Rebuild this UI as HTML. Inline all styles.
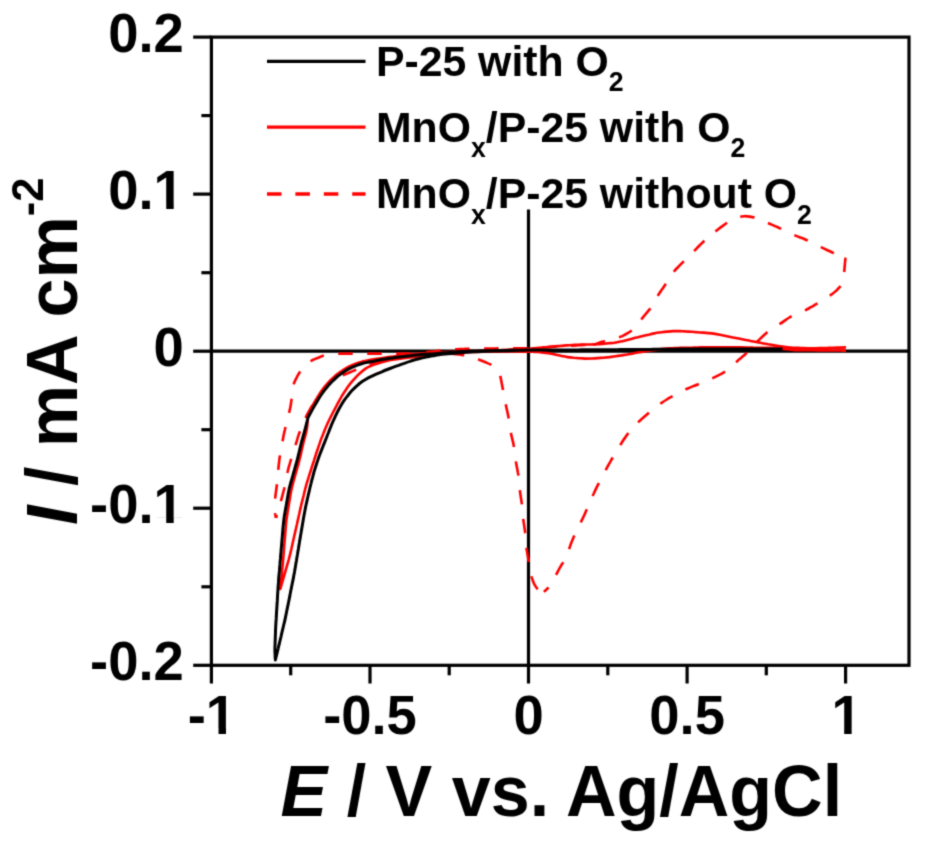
<!DOCTYPE html>
<html lang="en"><head><meta charset="utf-8"><title>Cyclic voltammograms</title>
<style>html,body{margin:0;padding:0;background:#fff}body{width:927px;height:846px;overflow:hidden}svg{display:block}text{font-family:"Liberation Sans", sans-serif;font-weight:bold;fill:#000}</style></head><body>
<svg width="927" height="846" viewBox="0 0 927 846">
<rect width="927" height="846" fill="#fff"/>
<defs><filter id="soft" x="0" y="0" width="927" height="846" filterUnits="userSpaceOnUse" color-interpolation-filters="sRGB"><feConvolveMatrix order="3" kernelMatrix="1 4 1 4 16 4 1 4 1" divisor="36" edgeMode="duplicate" preserveAlpha="false"/></filter></defs>
<g filter="url(#soft)">
<rect width="927" height="846" fill="#fff"/>
<g stroke="#000" stroke-width="3.2" fill="none">
<line x1="211.4" y1="351.2" x2="909.0" y2="351.2"/>
<line x1="528.5" y1="209.5" x2="528.5" y2="665.3"/>
</g>
<g fill="none" stroke-linejoin="round" stroke-linecap="butt">
<path d="M276.0 518.0 C276.3 517.0 277.1 514.2 277.7 512.2 C278.3 510.3 278.8 508.4 279.4 506.5 C279.9 504.6 280.5 502.6 281.0 500.7 C281.6 498.8 282.1 496.8 282.6 494.9 C283.1 493.0 283.6 491.0 284.1 489.1 C284.5 487.1 284.9 485.2 285.3 483.2 C285.7 481.3 286.0 479.3 286.4 477.3 C286.8 475.4 287.2 473.4 287.7 471.5 C288.1 469.5 288.7 467.6 289.2 465.7 C289.8 463.7 290.3 461.8 290.9 459.9 C291.5 458.0 292.1 456.1 292.7 454.2 C293.3 452.2 293.9 450.3 294.5 448.4 C295.1 446.5 295.7 444.6 296.3 442.7 C296.9 440.8 297.4 438.9 298.0 436.9 C298.6 435.0 299.2 433.2 300.0 431.3 C300.7 429.4 301.5 427.6 302.3 425.7 C303.0 423.9 303.8 422.0 304.6 420.2 C305.4 418.4 306.2 416.5 307.1 414.7 C307.9 413.0 309.0 411.2 309.9 409.5 C310.9 407.7 311.9 406.0 312.9 404.3 C313.9 402.5 315.0 400.8 316.1 399.2 C317.2 397.5 318.2 395.8 319.4 394.1 C320.5 392.5 321.8 391.0 323.1 389.5 C324.4 388.0 325.7 386.4 327.2 385.1 C328.7 383.7 330.3 382.6 331.9 381.4 C333.5 380.3 335.2 379.2 336.9 378.2 C338.7 377.2 340.5 376.3 342.3 375.5 C344.1 374.6 346.0 373.9 347.8 373.2 C349.7 372.4 351.6 371.7 353.4 370.9 C355.2 370.2 357.1 369.4 358.9 368.6 C360.8 367.8 362.6 367.0 364.5 366.3 C366.3 365.6 368.2 364.9 370.1 364.3 C372.0 363.6 373.9 363.0 375.8 362.4 C377.7 361.8 379.6 361.2 381.6 360.7 C383.5 360.2 385.5 359.8 387.4 359.3 C389.4 358.9 391.3 358.4 393.3 358.0 C395.2 357.6 397.2 357.1 399.1 356.7 C401.1 356.3 403.1 356.0 405.0 355.6 C407.0 355.3 409.0 354.9 411.0 354.6 C412.9 354.2 414.9 353.9 416.9 353.6 C418.8 353.2 420.8 352.9 422.8 352.7 C424.8 352.4 426.8 352.2 428.8 351.9 C430.7 351.7 432.7 351.4 434.7 351.2 C436.7 350.9 438.7 350.7 440.7 350.5 C442.7 350.3 444.7 350.1 446.7 349.9 C448.7 349.8 450.6 349.6 452.6 349.4 C454.6 349.3 456.6 349.1 458.6 349.0 C460.6 348.8 462.6 348.8 464.6 348.8 C466.6 348.7 468.6 348.7 470.6 348.7 C472.6 348.7 474.6 348.7 476.6 348.6 C478.6 348.6 480.6 348.6 482.6 348.6 C484.6 348.6 486.6 348.5 488.6 348.5 C490.6 348.5 492.6 348.5 494.6 348.5 C496.6 348.4 498.6 348.4 500.6 348.4 C502.6 348.4 504.7 348.4 506.7 348.4 C508.7 348.4 510.7 348.4 512.7 348.4 C514.7 348.4 516.7 348.4 518.7 348.4 C520.7 348.4 522.7 348.4 524.7 348.4 C526.7 348.4 528.7 348.3 530.7 348.2 C532.7 348.1 534.7 348.0 536.7 347.9 C538.7 347.8 540.7 347.6 542.7 347.5 C544.6 347.4 546.6 347.3 548.6 347.2 C550.6 347.1 552.6 346.9 554.6 346.8 C556.6 346.7 558.6 346.6 560.6 346.4 C562.6 346.3 564.6 346.2 566.6 346.0 C568.6 345.9 570.6 345.7 572.6 345.6 C574.6 345.5 576.6 345.3 578.6 345.2 C580.6 345.1 582.6 345.1 584.6 345.0 C586.6 344.9 589.1 344.8 590.6 344.8 C592.1 344.7 593.1 344.7 593.6 344.7" stroke="#ff0000" stroke-width="2.6" stroke-dasharray="14.5 14.5" stroke-dashoffset="11.5"/>
<path d="M593.6 344.7 C594.6 344.4 597.4 343.4 599.3 342.8 C601.2 342.2 603.1 341.5 605.0 340.9 C607.0 340.4 608.9 339.8 610.8 339.4 C612.8 338.9 614.8 338.5 616.7 338.0 C618.6 337.4 620.5 336.9 622.4 336.1 C624.2 335.3 625.9 334.3 627.6 333.2 C629.3 332.2 631.1 331.2 632.5 329.9 C634.0 328.6 635.2 326.9 636.5 325.4 C637.7 323.8 638.9 322.2 640.2 320.7 C641.5 319.1 642.8 317.6 644.0 316.0 C645.3 314.5 646.6 313.0 647.9 311.4 C649.2 309.9 650.5 308.4 651.6 306.7 C652.7 305.1 653.7 303.3 654.6 301.5 C655.6 299.8 656.5 298.0 657.5 296.2 C658.5 294.5 659.6 292.8 660.7 291.2 C661.9 289.5 663.1 287.9 664.2 286.2 C665.3 284.6 666.5 282.9 667.6 281.3 C668.7 279.6 669.7 277.9 670.8 276.2 C671.9 274.5 673.0 272.8 674.2 271.2 C675.4 269.7 676.9 268.3 678.3 266.8 C679.7 265.4 681.1 264.0 682.5 262.6 C683.9 261.2 685.4 259.7 686.8 258.3 C688.2 256.9 689.7 255.5 691.1 254.1 C692.5 252.7 693.9 251.3 695.3 249.8 C696.7 248.4 698.1 247.0 699.5 245.5 C700.9 244.1 702.4 242.7 703.8 241.3 C705.3 239.9 706.8 238.6 708.3 237.3 C709.8 236.0 711.3 234.6 712.8 233.3 C714.4 232.1 716.0 230.9 717.6 229.7 C719.2 228.4 720.8 227.2 722.4 226.1 C724.0 224.9 725.7 223.7 727.3 222.6 C729.0 221.5 730.7 220.4 732.5 219.5 C734.3 218.6 736.1 217.8 738.0 217.3 C739.9 216.7 741.9 216.4 743.9 216.2 C745.8 216.1 747.9 216.3 749.8 216.6 C751.8 216.9 753.8 217.3 755.7 217.9 C757.6 218.5 759.4 219.4 761.2 220.1 C763.1 220.9 764.9 221.7 766.8 222.5 C768.6 223.3 770.5 224.1 772.3 224.9 C774.1 225.7 776.0 226.5 777.8 227.3 C779.6 228.1 781.4 229.0 783.3 229.8 C785.1 230.7 786.9 231.6 788.7 232.5 C790.5 233.3 792.3 234.2 794.1 235.0 C796.0 235.8 797.8 236.5 799.7 237.3 C801.6 238.0 803.4 238.7 805.3 239.5 C807.1 240.3 808.9 241.2 810.7 242.1 C812.5 243.0 814.3 243.9 816.1 244.8 C817.9 245.7 819.7 246.6 821.5 247.4 C823.3 248.3 825.1 249.2 826.9 250.0 C828.8 250.9 830.6 251.7 832.4 252.5 C834.3 253.3 836.1 254.0 838.0 254.7 C839.9 255.4 842.4 256.4 843.6 256.9 C844.9 257.4 845.2 257.5 845.5 257.6" stroke="#ff0000" stroke-width="2.6" stroke-dasharray="14.5 14.5" stroke-dashoffset="2.5"/>
<path d="M845.5 257.6 C845.4 258.6 845.1 261.6 844.9 263.6 C844.8 265.6 844.6 267.6 844.4 269.6 C844.2 271.5 843.9 273.5 843.6 275.5 C843.4 277.5 843.3 279.6 842.7 281.4 C842.1 283.3 841.2 285.0 840.1 286.6 C839.0 288.2 837.5 289.6 836.0 290.9 C834.6 292.3 832.9 293.4 831.3 294.6 C829.6 295.7 827.9 296.8 826.3 297.9 C824.6 299.0 822.9 300.1 821.2 301.1 C819.5 302.2 817.8 303.2 816.1 304.2 C814.3 305.2 812.6 306.3 810.9 307.2 C809.1 308.2 807.4 309.2 805.6 310.1 C803.8 310.9 801.9 311.6 800.0 312.3 C798.2 313.0 796.2 313.6 794.5 314.5 C792.7 315.4 791.0 316.4 789.3 317.5 C787.6 318.6 786.0 319.8 784.4 320.9 C782.7 322.1 781.1 323.2 779.4 324.2 C777.7 325.3 775.9 326.2 774.2 327.3 C772.5 328.3 770.8 329.4 769.2 330.6 C767.6 331.8 766.2 333.2 764.7 334.5 C763.2 335.9 761.7 337.2 760.3 338.6 C758.9 340.0 757.5 341.5 756.1 342.9 C754.7 344.4 753.4 345.9 752.0 347.3 C750.7 348.8 749.3 350.3 747.9 351.7 C746.5 353.1 744.9 354.4 743.5 355.7 C742.0 357.0 740.4 358.3 738.9 359.6 C737.4 361.0 736.0 362.4 734.5 363.7 C733.1 365.1 731.7 366.6 730.2 367.9 C728.6 369.1 727.0 370.3 725.4 371.4 C723.7 372.5 721.9 373.4 720.2 374.4 C718.4 375.3 716.6 376.3 714.8 377.1 C713.1 378.0 711.2 378.8 709.4 379.6 C707.5 380.4 705.7 381.2 703.9 382.0 C702.0 382.8 700.2 383.5 698.3 384.3 C696.5 385.0 694.6 385.7 692.7 386.4 C690.8 387.1 689.0 387.9 687.2 388.7 C685.3 389.5 683.6 390.5 681.8 391.3 C680.0 392.2 678.2 393.1 676.4 394.0 C674.6 395.0 672.9 396.0 671.2 396.9 C669.4 397.9 667.7 398.9 666.0 400.0 C664.3 401.0 662.6 402.2 661.0 403.3 C659.4 404.5 657.8 405.8 656.2 407.0 C654.7 408.2 653.1 409.5 651.5 410.7 C650.0 412.0 648.5 413.3 646.9 414.5 C645.4 415.8 643.9 417.1 642.3 418.4 C640.8 419.8 639.4 421.1 637.9 422.5 C636.4 423.8 634.9 425.1 633.5 426.6 C632.2 428.0 630.9 429.6 629.7 431.2 C628.5 432.8 627.4 434.4 626.2 436.1 C625.1 437.7 623.9 439.3 622.8 441.0 C621.8 442.7 620.7 444.4 619.7 446.1 C618.6 447.8 617.5 449.5 616.5 451.2 C615.4 452.9 614.4 454.6 613.4 456.4 C612.4 458.1 611.4 459.8 610.4 461.6 C609.4 463.3 608.4 465.0 607.4 466.8 C606.5 468.5 605.5 470.3 604.5 472.0 C603.5 473.8 602.6 475.5 601.7 477.3 C600.7 479.1 599.9 480.9 599.0 482.7 C598.1 484.5 597.2 486.3 596.3 488.1 C595.4 489.9 594.6 491.7 593.8 493.5 C592.9 495.3 592.1 497.1 591.3 499.0 C590.5 500.8 589.7 502.6 588.9 504.5 C588.1 506.3 587.3 508.2 586.5 510.0 C585.7 511.8 585.0 513.7 584.1 515.5 C583.3 517.3 582.4 519.1 581.5 520.9 C580.6 522.7 579.6 524.4 578.7 526.2 C577.8 528.0 576.9 529.8 576.1 531.6 C575.3 533.4 574.5 535.3 573.7 537.1 C572.9 539.0 572.1 540.8 571.4 542.6 C570.6 544.5 570.0 546.4 569.4 548.3 C568.7 550.2 568.2 552.2 567.5 554.0 C566.8 555.9 565.9 557.7 565.0 559.4 C564.0 561.2 562.9 562.8 561.8 564.5 C560.8 566.2 559.7 567.9 558.8 569.7 C557.8 571.4 557.0 573.2 556.0 575.0 C555.1 576.8 554.3 578.6 553.3 580.4 C552.3 582.1 551.3 583.8 550.1 585.4 C548.9 587.0 547.2 588.8 546.1 589.8 C545.1 590.9 544.2 591.4 543.8 591.7" stroke="#ff0000" stroke-width="2.6" stroke-dasharray="14.5 14.5" stroke-dashoffset="0.0"/>
<path d="M543.8 591.7 C542.9 591.4 539.9 590.8 538.4 589.7 C536.9 588.6 535.8 586.9 534.8 585.2 C533.8 583.5 533.1 581.5 532.5 579.6 C531.8 577.8 531.2 575.8 530.8 573.9 C530.3 571.9 530.0 570.0 529.7 568.0 C529.4 566.0 529.1 564.0 528.8 562.0 C528.5 560.0 528.1 558.1 527.8 556.1 C527.5 554.1 527.1 552.1 526.8 550.2 C526.5 548.2 526.2 546.2 526.0 544.2 C525.8 542.2 525.8 540.2 525.6 538.2 C525.5 536.2 525.4 534.2 525.1 532.2 C524.9 530.2 524.6 528.2 524.3 526.2 C524.0 524.2 523.7 522.3 523.4 520.3 C523.1 518.3 522.9 516.3 522.7 514.3 C522.5 512.3 522.4 510.3 522.2 508.3 C522.1 506.3 521.9 504.3 521.6 502.3 C521.4 500.3 521.0 498.4 520.7 496.4 C520.4 494.4 520.1 492.4 519.9 490.4 C519.6 488.4 519.4 486.4 519.3 484.4 C519.1 482.4 519.0 480.4 518.8 478.4 C518.6 476.4 518.3 474.5 517.9 472.5 C517.6 470.5 517.1 468.6 516.8 466.6 C516.4 464.6 516.0 462.7 515.7 460.7 C515.4 458.7 515.2 456.7 514.9 454.7 C514.7 452.7 514.6 450.7 514.3 448.7 C514.0 446.7 513.6 444.8 513.2 442.8 C512.8 440.9 512.2 438.9 511.8 437.0 C511.3 435.0 510.9 433.1 510.5 431.1 C510.2 429.1 510.0 427.1 509.7 425.1 C509.4 423.1 509.2 421.1 508.8 419.2 C508.5 417.2 508.1 415.2 507.7 413.3 C507.3 411.3 506.8 409.3 506.4 407.4 C506.0 405.4 505.6 403.5 505.2 401.5 C504.8 399.5 504.4 397.5 504.1 395.6 C503.7 393.6 503.4 391.6 503.0 389.7 C502.6 387.7 502.2 385.7 501.8 383.7 C501.4 381.8 501.1 379.8 500.7 377.8 C500.2 375.9 499.8 373.9 498.9 372.2 C498.0 370.5 496.8 368.8 495.4 367.5 C493.9 366.2 492.1 365.3 490.3 364.4 C488.5 363.5 486.6 362.8 484.8 362.0 C483.0 361.2 481.1 360.4 479.2 359.7 C477.4 359.0 475.5 358.2 473.6 357.6 C471.7 356.9 469.8 356.2 467.9 355.7 C466.0 355.3 464.0 355.1 462.0 354.9 C460.0 354.6 458.0 354.4 456.0 354.2 C454.0 354.0 451.0 353.7 450.0 353.6" stroke="#ff0000" stroke-width="2.6" stroke-dasharray="14.5 14.5" stroke-dashoffset="22.4"/>
<path d="M450.0 353.6 C449.0 353.6 446.0 353.6 444.0 353.6 C442.0 353.6 440.0 353.6 438.0 353.6 C436.0 353.6 434.0 353.6 432.0 353.6 C430.0 353.6 427.9 353.6 425.9 353.6 C423.9 353.6 421.9 353.6 419.9 353.6 C417.9 353.6 415.9 353.6 413.9 353.6 C411.9 353.6 409.9 353.6 407.9 353.6 C405.9 353.6 403.9 353.6 401.9 353.6 C399.9 353.6 397.9 353.6 395.9 353.6 C393.9 353.6 391.9 353.6 389.9 353.6 C387.8 353.6 385.8 353.6 383.8 353.6 C381.8 353.6 379.8 353.6 377.8 353.6 C375.8 353.6 373.8 353.6 371.8 353.6 C369.8 353.6 367.8 353.6 365.8 353.6 C363.8 353.6 361.8 353.6 359.8 353.6 C357.8 353.6 355.8 353.6 353.8 353.6 C351.8 353.6 349.8 353.6 347.7 353.6 C345.7 353.6 343.7 353.6 341.7 353.6 C339.7 353.6 337.7 353.7 335.7 353.8 C333.7 354.0 331.7 354.3 329.8 354.6 C327.8 354.9 325.8 355.1 323.9 355.6 C321.9 356.1 320.1 356.9 318.2 357.7 C316.4 358.4 314.5 359.1 312.7 360.0 C311.0 360.9 309.3 362.0 307.8 363.2 C306.3 364.5 304.9 366.0 303.6 367.5 C302.3 369.0 300.9 370.5 299.8 372.1 C298.6 373.7 297.8 375.6 296.8 377.3 C295.9 379.1 294.9 380.9 294.2 382.7 C293.6 384.6 293.3 386.5 292.9 388.5 C292.6 390.5 292.5 392.5 292.2 394.5 C292.0 396.5 291.7 398.5 291.4 400.4 C291.1 402.4 290.9 404.4 290.5 406.4 C290.1 408.4 289.7 410.3 289.2 412.3 C288.7 414.2 288.1 416.1 287.6 418.0 C287.1 420.0 286.6 421.9 286.2 423.9 C285.7 425.8 285.3 427.8 284.9 429.7 C284.4 431.7 284.0 433.7 283.6 435.6 C283.2 437.6 282.9 439.6 282.5 441.5 C282.1 443.5 281.7 445.5 281.4 447.5 C281.0 449.4 280.6 451.4 280.3 453.4 C280.0 455.3 279.7 457.3 279.4 459.3 C279.2 461.3 278.9 463.3 278.7 465.3 C278.5 467.3 278.3 469.3 278.1 471.3 C277.9 473.3 277.8 475.3 277.6 477.3 C277.5 479.3 277.3 481.3 277.1 483.3 C276.9 485.2 276.6 487.2 276.3 489.2 C276.1 491.2 275.8 493.2 275.5 495.2 C275.3 497.2 275.1 499.2 274.9 501.2 C274.7 503.2 274.4 505.2 274.5 507.2 C274.5 509.1 274.8 511.3 275.0 513.1 C275.3 514.9 275.8 517.2 276.0 518.0" stroke="#ff0000" stroke-width="2.6" stroke-dasharray="14.5 14.5" stroke-dashoffset="18.7"/>
<path d="M846.0 347.4 C845.0 347.4 842.0 347.5 840.0 347.6 C838.0 347.6 836.0 347.7 834.0 347.7 C832.0 347.8 830.0 347.8 828.0 347.9 C826.0 347.9 824.0 348.0 822.0 348.1 C820.0 348.1 818.0 348.2 816.0 348.2 C814.0 348.3 812.0 348.3 810.0 348.3 C808.0 348.3 806.0 348.2 804.0 348.1 C802.0 348.1 800.0 348.0 798.0 347.9 C796.0 347.8 794.0 347.7 792.0 347.6 C790.0 347.4 788.0 347.3 786.0 347.0 C784.0 346.8 782.1 346.5 780.1 346.2 C778.1 345.9 776.1 345.5 774.1 345.2 C772.2 344.9 770.2 344.6 768.2 344.3 C766.2 343.9 764.3 343.6 762.3 343.2 C760.3 342.9 758.4 342.5 756.4 342.1 C754.5 341.7 752.5 341.3 750.5 340.9 C748.6 340.5 746.6 340.2 744.6 339.8 C742.7 339.4 740.7 339.0 738.7 338.6 C736.8 338.2 734.8 337.8 732.9 337.4 C730.9 337.0 728.9 336.6 727.0 336.2 C725.0 335.8 723.0 335.4 721.1 335.0 C719.1 334.7 717.2 334.2 715.2 333.9 C713.2 333.6 711.2 333.3 709.2 333.1 C707.3 332.9 705.3 332.8 703.3 332.6 C701.3 332.5 699.3 332.4 697.3 332.2 C695.3 332.1 693.3 331.9 691.3 331.8 C689.3 331.7 687.3 331.5 685.3 331.4 C683.3 331.2 681.3 331.1 679.3 331.0 C677.3 331.0 675.3 331.0 673.3 331.1 C671.3 331.2 669.3 331.4 667.3 331.6 C665.3 331.8 663.4 332.0 661.4 332.2 C659.4 332.5 657.4 332.7 655.4 333.1 C653.5 333.4 651.5 333.9 649.6 334.4 C647.6 334.8 645.7 335.3 643.7 335.8 C641.8 336.3 639.9 336.8 637.9 337.3 C636.0 337.7 634.0 338.2 632.1 338.7 C630.2 339.2 628.2 339.7 626.3 340.2 C624.3 340.7 622.4 341.2 620.4 341.6 C618.5 342.0 616.5 342.4 614.6 342.7 C612.6 343.0 610.6 343.1 608.6 343.3 C606.6 343.5 604.6 343.7 602.6 343.9 C600.6 344.1 598.6 344.3 596.6 344.3 C594.6 344.4 592.6 344.4 590.6 344.5 C588.6 344.5 586.6 344.5 584.6 344.5 C582.6 344.6 580.6 344.6 578.6 344.7 C576.6 344.7 574.6 344.9 572.6 345.0 C570.6 345.1 568.6 345.3 566.6 345.4 C564.6 345.6 562.6 345.7 560.6 345.9 C558.7 346.0 556.7 346.2 554.7 346.4 C552.7 346.6 550.7 346.8 548.7 346.9 C546.7 347.1 544.7 347.3 542.7 347.5 C540.7 347.7 538.7 347.9 536.7 348.0 C534.7 348.2 532.7 348.4 530.7 348.6 C528.7 348.7 526.8 348.8 524.8 348.9 C522.8 349.0 520.8 349.1 518.8 349.2 C516.8 349.3 514.8 349.4 512.8 349.4 C510.8 349.5 508.8 349.6 506.8 349.7 C504.8 349.8 502.8 349.9 500.8 350.0 C498.8 350.0 496.8 350.1 494.8 350.2 C492.8 350.2 490.8 350.3 488.8 350.4 C486.8 350.4 484.8 350.5 482.8 350.6 C480.8 350.6 478.8 350.7 476.8 350.8 C474.8 350.8 472.7 350.9 470.7 351.0 C468.7 351.1 466.7 351.1 464.7 351.2 C462.7 351.3 460.7 351.4 458.8 351.5 C456.8 351.6 454.8 351.6 452.8 351.7 C450.8 351.8 448.8 351.9 446.8 352.0 C444.8 352.1 442.8 352.2 440.8 352.3 C438.8 352.4 436.8 352.5 434.8 352.6 C432.8 352.7 430.8 352.9 428.8 353.0 C426.8 353.1 424.8 353.2 422.8 353.4 C420.8 353.5 418.8 353.6 416.8 353.8 C414.8 354.0 412.8 354.2 410.8 354.4 C408.8 354.6 406.8 354.9 404.8 355.1 C402.9 355.3 400.9 355.5 398.9 355.8 C396.9 356.0 394.9 356.2 392.9 356.5 C390.9 356.7 388.9 357.0 387.0 357.3 C385.0 357.6 383.0 357.9 381.0 358.2 C379.1 358.5 377.1 358.8 375.1 359.1 C373.1 359.4 371.2 359.8 369.2 360.1 C367.2 360.5 365.2 360.8 363.3 361.3 C361.4 361.8 359.5 362.4 357.6 363.0 C355.7 363.7 353.8 364.4 352.0 365.2 C350.1 366.0 348.4 366.8 346.6 367.8 C344.9 368.8 343.2 369.9 341.6 371.0 C339.9 372.2 338.2 373.3 336.7 374.5 C335.1 375.8 333.7 377.2 332.3 378.6 C330.8 379.9 329.4 381.3 328.0 382.8 C326.7 384.3 325.5 385.9 324.2 387.4 C323.0 389.0 321.8 390.6 320.7 392.3 C319.5 393.9 318.5 395.6 317.4 397.3 C316.4 399.0 315.3 400.7 314.3 402.5 C313.4 404.2 312.5 406.0 311.6 407.8 C310.7 409.6 309.7 411.9 309.1 413.3 C308.5 414.6 308.1 415.5 307.9 416.0 C307.8 417.0 307.7 420.0 307.5 422.0 C307.4 424.0 307.3 426.0 307.0 428.0 C306.7 430.0 306.3 431.9 305.8 433.9 C305.3 435.8 304.7 437.7 304.2 439.7 C303.7 441.6 303.2 443.6 302.8 445.5 C302.3 447.5 301.9 449.4 301.4 451.4 C301.0 453.4 300.6 455.3 300.1 457.3 C299.6 459.2 299.1 461.2 298.6 463.1 C298.1 465.1 297.5 467.0 297.0 468.9 C296.5 470.9 295.9 472.8 295.4 474.7 C294.8 476.7 294.3 478.6 293.8 480.5 C293.2 482.5 292.7 484.4 292.2 486.3 C291.7 488.3 291.3 490.3 290.9 492.2 C290.5 494.2 290.2 496.2 289.9 498.2 C289.6 500.1 289.2 502.1 288.9 504.1 C288.6 506.1 288.3 508.1 287.9 510.1 C287.6 512.0 287.3 514.0 287.0 516.0 C286.7 518.0 286.4 520.0 286.2 522.0 C286.0 524.0 285.8 526.0 285.7 528.0 C285.5 530.0 285.4 532.0 285.2 534.0 C285.0 536.0 284.9 538.0 284.7 540.0 C284.6 542.0 284.4 544.0 284.2 546.0 C284.1 548.0 283.9 550.0 283.8 552.0 C283.6 554.0 283.5 556.0 283.3 558.0 C283.1 560.0 283.0 562.0 282.8 564.0 C282.6 566.0 282.4 568.0 282.2 570.0 C282.0 572.0 281.8 574.0 281.6 576.0 C281.4 578.0 281.2 580.0 281.0 582.0 C280.8 584.0 280.5 586.8 280.4 588.0 C280.3 589.2 280.3 588.8 280.3 589.0 C280.6 588.0 281.4 585.1 282.0 583.2 C282.5 581.3 283.1 579.4 283.6 577.4 C284.2 575.5 284.7 573.6 285.3 571.7 C285.8 569.7 286.4 567.8 286.9 565.9 C287.5 564.0 288.0 562.1 288.6 560.1 C289.1 558.2 289.6 556.3 290.1 554.3 C290.6 552.4 291.0 550.4 291.5 548.5 C291.9 546.5 292.4 544.6 292.8 542.6 C293.2 540.7 293.7 538.7 294.1 536.7 C294.6 534.8 295.0 532.8 295.4 530.9 C295.9 528.9 296.3 527.0 296.8 525.0 C297.2 523.1 297.6 521.1 298.1 519.2 C298.5 517.2 298.9 515.3 299.4 513.3 C299.8 511.3 300.2 509.4 300.7 507.4 C301.1 505.5 301.6 503.5 302.1 501.6 C302.6 499.7 303.1 497.7 303.6 495.8 C304.0 493.8 304.5 491.9 305.0 489.9 C305.5 488.0 306.0 486.1 306.5 484.1 C307.1 482.2 307.7 480.3 308.3 478.4 C308.8 476.5 309.5 474.6 310.1 472.7 C310.7 470.7 311.3 468.8 311.9 466.9 C312.5 465.0 313.1 463.1 313.8 461.2 C314.4 459.3 315.0 457.4 315.6 455.5 C316.2 453.6 316.8 451.7 317.5 449.8 C318.1 447.9 318.7 446.0 319.4 444.1 C320.0 442.2 320.7 440.3 321.4 438.4 C322.1 436.6 322.9 434.7 323.6 432.9 C324.4 431.0 325.1 429.1 325.9 427.3 C326.7 425.5 327.5 423.6 328.3 421.8 C329.2 420.0 330.1 418.2 331.0 416.4 C331.9 414.6 332.8 412.9 333.7 411.1 C334.7 409.3 335.6 407.5 336.5 405.8 C337.5 404.0 338.4 402.2 339.4 400.5 C340.3 398.7 341.3 397.0 342.3 395.2 C343.4 393.5 344.5 391.9 345.6 390.2 C346.7 388.5 347.8 386.9 349.0 385.3 C350.2 383.7 351.5 382.2 352.8 380.7 C354.2 379.2 355.5 377.7 356.9 376.2 C358.3 374.8 359.8 373.4 361.3 372.1 C362.7 370.8 364.2 369.4 365.9 368.3 C367.5 367.3 369.3 366.5 371.2 365.7 C373.0 364.9 374.9 364.3 376.8 363.7 C378.7 363.1 380.6 362.5 382.6 362.0 C384.5 361.4 386.4 360.9 388.4 360.5 C390.3 360.1 392.3 359.8 394.3 359.5 C396.3 359.1 398.3 358.9 400.2 358.7 C402.2 358.4 404.2 358.1 406.2 357.9 C408.2 357.6 410.2 357.4 412.2 357.1 C414.2 356.8 416.1 356.6 418.1 356.4 C420.1 356.1 422.1 355.9 424.1 355.6 C426.1 355.4 428.1 355.2 430.1 354.9 C432.0 354.7 434.0 354.5 436.0 354.3 C438.0 354.1 440.0 353.9 442.0 353.8 C444.0 353.6 446.0 353.5 448.0 353.4 C450.0 353.2 452.0 353.1 454.0 353.0 C456.0 352.9 458.0 352.7 460.0 352.6 C462.0 352.5 464.0 352.4 466.0 352.3 C468.0 352.1 470.0 352.1 472.0 352.0 C474.0 351.9 476.0 351.9 478.0 351.9 C480.0 351.8 482.0 351.8 484.0 351.8 C486.0 351.7 488.0 351.7 490.0 351.7 C492.0 351.6 494.0 351.6 496.0 351.6 C498.0 351.5 500.0 351.5 502.0 351.5 C504.0 351.5 506.0 351.5 508.0 351.5 C510.0 351.5 512.0 351.5 514.0 351.5 C516.0 351.5 518.1 351.6 520.1 351.6 C522.1 351.6 524.1 351.6 526.1 351.6 C528.1 351.6 530.1 351.6 532.1 351.6 C534.1 351.7 536.1 351.8 538.1 352.0 C540.0 352.1 542.0 352.4 544.0 352.6 C546.0 352.9 548.0 353.1 550.0 353.5 C551.9 353.8 553.9 354.3 555.9 354.7 C557.8 355.1 559.8 355.5 561.7 355.9 C563.7 356.3 565.6 356.8 567.6 357.1 C569.6 357.4 571.6 357.6 573.6 357.8 C575.6 357.9 577.6 358.1 579.6 358.2 C581.6 358.3 583.6 358.5 585.6 358.6 C587.6 358.6 589.6 358.6 591.5 358.5 C593.5 358.4 595.5 358.3 597.5 358.1 C599.5 358.0 601.5 357.8 603.5 357.7 C605.5 357.5 607.5 357.3 609.5 357.1 C611.5 356.8 613.5 356.5 615.5 356.2 C617.4 356.0 619.4 355.7 621.4 355.4 C623.4 355.1 625.4 354.8 627.3 354.5 C629.3 354.1 631.3 353.8 633.3 353.4 C635.2 353.0 637.2 352.7 639.2 352.3 C641.1 352.0 643.1 351.6 645.1 351.3 C647.1 351.0 649.1 350.8 651.0 350.5 C653.0 350.2 655.0 349.9 657.0 349.7 C659.0 349.4 661.0 349.1 662.9 348.9 C664.9 348.7 666.9 348.5 668.9 348.4 C670.9 348.3 672.9 348.2 674.9 348.1 C676.9 348.1 678.9 348.0 680.9 347.9 C682.9 347.8 684.9 347.8 686.9 347.7 C688.9 347.6 690.9 347.5 692.9 347.5 C694.9 347.4 696.9 347.3 698.9 347.3 C700.9 347.2 702.9 347.2 704.9 347.2 C706.9 347.2 708.9 347.2 711.0 347.2 C713.0 347.3 715.0 347.3 717.0 347.3 C719.0 347.3 721.0 347.3 723.0 347.3 C725.0 347.3 727.0 347.3 729.0 347.3 C731.0 347.3 733.0 347.3 735.0 347.4 C737.0 347.4 739.0 347.4 741.0 347.4 C743.0 347.4 745.0 347.4 747.0 347.5 C749.0 347.5 751.0 347.5 753.0 347.6 C755.0 347.6 757.0 347.6 759.0 347.7 C761.0 347.7 763.0 347.8 765.0 347.8 C767.0 347.8 769.0 347.9 771.0 347.9 C773.0 348.0 775.0 348.1 777.0 348.3 C779.0 348.4 781.0 348.7 783.0 348.9 C785.0 349.1 787.0 349.3 789.0 349.5 C791.0 349.7 792.9 350.0 794.9 350.1 C796.9 350.2 798.9 350.2 800.9 350.2 C802.9 350.3 804.9 350.3 807.0 350.3 C809.0 350.3 811.0 350.3 813.0 350.3 C815.0 350.4 817.0 350.4 819.0 350.4 C821.0 350.4 823.0 350.4 825.0 350.4 C827.0 350.5 829.0 350.5 831.0 350.5 C833.0 350.5 835.0 350.5 837.0 350.5 C839.0 350.5 841.5 350.6 843.0 350.6 C844.5 350.6 845.5 350.6 846.0 350.6" stroke="#ff0000" stroke-width="2.6"/>
<path d="M782.5 349.0 C781.5 349.0 778.5 349.0 776.5 349.0 C774.5 349.0 772.5 349.0 770.5 349.0 C768.5 349.0 766.5 349.0 764.5 349.0 C762.5 349.0 760.5 349.0 758.5 349.0 C756.5 349.0 754.5 349.0 752.5 349.0 C750.5 349.0 748.5 349.0 746.5 349.0 C744.5 349.0 742.5 349.0 740.5 349.0 C738.5 349.0 736.5 349.0 734.5 349.0 C732.5 349.0 730.5 349.0 728.5 349.0 C726.5 349.0 724.5 349.0 722.5 349.0 C720.5 349.0 718.5 349.0 716.5 349.0 C714.5 349.0 712.5 349.0 710.5 349.0 C708.5 349.0 706.5 349.0 704.5 349.0 C702.5 349.0 700.5 349.0 698.5 349.0 C696.5 349.0 694.5 349.0 692.5 349.1 C690.5 349.1 688.4 349.1 686.4 349.1 C684.4 349.1 682.4 349.1 680.4 349.1 C678.4 349.2 676.4 349.2 674.4 349.2 C672.4 349.2 670.4 349.2 668.4 349.2 C666.4 349.3 664.4 349.3 662.4 349.3 C660.4 349.3 658.4 349.3 656.4 349.3 C654.4 349.3 652.4 349.4 650.4 349.4 C648.4 349.4 646.4 349.4 644.4 349.4 C642.4 349.4 640.4 349.5 638.4 349.5 C636.4 349.5 634.4 349.5 632.4 349.5 C630.4 349.5 628.4 349.6 626.4 349.6 C624.4 349.6 622.4 349.6 620.4 349.6 C618.4 349.6 616.4 349.7 614.4 349.7 C612.4 349.7 610.4 349.7 608.4 349.7 C606.4 349.7 604.4 349.8 602.4 349.8 C600.4 349.8 598.4 349.8 596.4 349.8 C594.4 349.8 592.4 349.8 590.4 349.8 C588.4 349.8 586.4 349.8 584.4 349.8 C582.4 349.8 580.4 349.9 578.4 349.9 C576.4 349.9 574.4 349.9 572.4 349.9 C570.4 349.9 568.4 349.9 566.4 349.9 C564.4 349.9 562.4 349.9 560.4 349.9 C558.4 349.9 556.4 349.9 554.4 349.9 C552.4 349.9 550.4 349.9 548.4 349.9 C546.4 349.9 544.4 350.0 542.4 350.0 C540.4 350.0 538.4 350.0 536.4 350.0 C534.4 350.0 532.4 350.0 530.4 350.0 C528.4 350.0 526.4 350.0 524.4 350.1 C522.4 350.1 520.4 350.1 518.4 350.2 C516.4 350.2 514.4 350.2 512.4 350.3 C510.4 350.3 508.4 350.3 506.4 350.4 C504.4 350.4 502.4 350.4 500.4 350.5 C498.4 350.5 496.4 350.5 494.4 350.6 C492.4 350.6 490.4 350.6 488.4 350.7 C486.4 350.7 484.4 350.8 482.3 350.8 C480.3 350.8 478.3 350.8 476.3 350.9 C474.3 350.9 472.3 351.0 470.3 351.0 C468.3 351.1 466.4 351.3 464.4 351.4 C462.4 351.5 460.4 351.7 458.4 351.8 C456.4 351.9 454.4 352.1 452.4 352.2 C450.4 352.4 448.4 352.5 446.4 352.7 C444.4 352.9 442.4 353.0 440.4 353.2 C438.4 353.4 436.4 353.5 434.4 353.7 C432.4 353.8 430.4 353.9 428.4 354.1 C426.4 354.2 424.4 354.4 422.5 354.5 C420.5 354.7 418.5 354.8 416.5 355.0 C414.5 355.2 412.5 355.4 410.5 355.7 C408.5 355.9 406.5 356.2 404.5 356.4 C402.6 356.7 400.6 356.9 398.6 357.1 C396.6 357.4 394.6 357.6 392.6 357.9 C390.6 358.2 388.7 358.5 386.7 358.8 C384.7 359.1 382.8 359.5 380.8 359.8 C378.8 360.2 376.8 360.5 374.9 360.9 C372.9 361.2 370.9 361.6 369.0 362.0 C367.0 362.4 365.0 362.7 363.1 363.2 C361.2 363.7 359.3 364.4 357.4 365.1 C355.5 365.8 353.7 366.5 351.9 367.3 C350.1 368.2 348.3 369.1 346.6 370.1 C344.9 371.1 343.2 372.3 341.6 373.4 C339.9 374.6 338.3 375.7 336.8 377.0 C335.3 378.3 333.9 379.7 332.5 381.1 C331.1 382.6 329.6 384.0 328.3 385.5 C327.0 387.0 325.8 388.6 324.6 390.2 C323.4 391.8 322.2 393.4 321.1 395.0 C319.9 396.7 318.9 398.4 317.9 400.1 C316.8 401.8 315.8 403.5 314.8 405.3 C313.8 407.0 312.8 408.7 311.8 410.5 C310.9 412.2 309.6 414.6 309.0 415.7 C308.3 416.9 308.2 417.2 308.0 417.5 C307.8 418.5 307.1 421.4 306.6 423.4 C306.1 425.3 305.7 427.3 305.1 429.2 C304.6 431.1 304.1 433.1 303.5 435.0 C303.0 436.9 302.4 438.8 301.9 440.8 C301.3 442.7 300.9 444.7 300.4 446.6 C299.9 448.6 299.5 450.5 299.0 452.5 C298.5 454.4 298.1 456.4 297.6 458.3 C297.1 460.3 296.6 462.2 296.0 464.1 C295.5 466.1 294.9 468.0 294.4 469.9 C293.8 471.9 293.3 473.8 292.8 475.7 C292.2 477.6 291.7 479.6 291.1 481.5 C290.6 483.4 290.0 485.4 289.5 487.3 C289.1 489.3 288.7 491.2 288.3 493.2 C287.9 495.2 287.6 497.1 287.3 499.1 C286.9 501.1 286.6 503.1 286.3 505.1 C285.9 507.0 285.6 509.0 285.2 511.0 C284.9 513.0 284.5 514.9 284.2 516.9 C284.0 518.9 283.7 520.9 283.5 522.9 C283.3 524.9 283.1 526.9 282.9 528.9 C282.8 530.9 282.6 532.9 282.4 534.9 C282.3 536.9 282.1 538.9 281.9 540.9 C281.7 542.9 281.6 544.9 281.4 546.9 C281.2 548.9 281.1 550.9 280.9 552.9 C280.7 554.9 280.5 556.9 280.4 558.9 C280.2 560.9 280.0 562.9 279.9 564.9 C279.7 566.9 279.5 568.9 279.4 570.9 C279.2 572.9 279.0 574.9 278.8 576.9 C278.7 578.9 278.5 580.9 278.4 582.9 C278.2 584.9 278.1 586.9 278.0 588.9 C277.9 590.9 277.7 592.9 277.6 594.9 C277.5 596.9 277.4 598.9 277.3 600.9 C277.1 602.9 277.0 604.9 276.9 606.9 C276.8 608.9 276.6 610.9 276.5 612.9 C276.4 614.9 276.3 616.9 276.2 618.9 C276.0 620.9 275.9 622.9 275.8 624.9 C275.7 626.9 275.6 628.9 275.5 630.9 C275.5 632.9 275.4 635.0 275.3 637.0 C275.3 639.0 275.2 641.0 275.1 643.0 C275.1 645.0 274.9 647.0 274.9 649.0 C274.9 651.0 275.0 653.2 275.1 655.0 C275.1 656.8 275.3 659.2 275.4 660.0 C275.6 659.0 276.3 656.1 276.8 654.2 C277.3 652.2 277.7 650.3 278.2 648.3 C278.6 646.4 279.1 644.4 279.6 642.5 C280.0 640.5 280.5 638.6 281.0 636.6 C281.4 634.7 281.9 632.7 282.3 630.8 C282.8 628.9 283.3 626.9 283.7 625.0 C284.2 623.0 284.7 621.1 285.1 619.1 C285.5 617.2 285.9 615.2 286.3 613.2 C286.7 611.3 287.1 609.3 287.5 607.4 C287.9 605.4 288.3 603.4 288.7 601.5 C289.1 599.5 289.5 597.5 289.9 595.6 C290.2 593.6 290.6 591.7 291.0 589.7 C291.4 587.7 291.8 585.8 292.2 583.8 C292.6 581.8 293.0 579.9 293.4 577.9 C293.7 576.0 294.1 574.0 294.5 572.0 C294.8 570.0 295.2 568.1 295.5 566.1 C295.8 564.1 296.1 562.2 296.5 560.2 C296.8 558.2 297.1 556.2 297.5 554.3 C297.8 552.3 298.1 550.3 298.5 548.3 C298.8 546.4 299.1 544.4 299.4 542.4 C299.8 540.4 300.1 538.5 300.4 536.5 C300.8 534.5 301.1 532.6 301.4 530.6 C301.8 528.6 302.1 526.6 302.4 524.7 C302.8 522.7 303.1 520.7 303.4 518.7 C303.8 516.8 304.1 514.8 304.5 512.8 C304.9 510.9 305.2 508.9 305.6 506.9 C306.0 505.0 306.5 503.0 306.9 501.1 C307.3 499.1 307.8 497.2 308.2 495.2 C308.7 493.3 309.1 491.3 309.6 489.4 C310.0 487.4 310.5 485.5 311.0 483.5 C311.4 481.6 311.9 479.6 312.5 477.7 C313.0 475.8 313.5 473.8 314.0 471.9 C314.6 470.0 315.2 468.1 315.8 466.2 C316.4 464.3 317.0 462.4 317.7 460.5 C318.3 458.6 319.0 456.7 319.7 454.8 C320.4 453.0 321.1 451.1 321.9 449.2 C322.6 447.4 323.3 445.5 324.1 443.7 C324.8 441.8 325.5 439.9 326.3 438.1 C327.0 436.2 327.7 434.3 328.5 432.5 C329.2 430.6 329.9 428.8 330.7 426.9 C331.4 425.1 332.2 423.2 333.0 421.4 C333.9 419.6 334.7 417.7 335.5 415.9 C336.4 414.1 337.2 412.3 338.2 410.5 C339.1 408.8 340.1 407.0 341.1 405.3 C342.1 403.6 343.1 401.9 344.3 400.2 C345.4 398.6 346.7 397.0 347.9 395.5 C349.1 393.9 350.4 392.3 351.7 390.8 C353.1 389.4 354.5 388.0 356.0 386.6 C357.5 385.3 358.9 383.9 360.5 382.7 C362.1 381.5 363.8 380.5 365.5 379.5 C367.2 378.5 369.0 377.5 370.8 376.6 C372.6 375.7 374.4 374.9 376.2 374.1 C378.1 373.3 379.9 372.5 381.8 371.8 C383.6 371.0 385.5 370.2 387.3 369.5 C389.2 368.8 391.1 368.1 392.9 367.4 C394.8 366.7 396.7 366.0 398.6 365.4 C400.5 364.7 402.4 364.0 404.3 363.4 C406.1 362.7 408.0 362.0 409.9 361.4 C411.8 360.7 413.7 360.0 415.6 359.5 C417.5 358.9 419.5 358.5 421.4 358.1 C423.4 357.7 425.4 357.3 427.3 356.9 C429.3 356.5 431.2 356.1 433.2 355.8 C435.2 355.4 437.1 355.0 439.1 354.8 C441.1 354.5 443.1 354.3 445.1 354.1 C447.1 353.9 449.1 353.7 451.1 353.5 C453.1 353.3 455.0 353.1 457.0 353.0 C459.0 352.8 461.0 352.6 463.0 352.5 C465.0 352.4 467.0 352.3 469.0 352.1 C471.0 352.0 473.0 351.9 475.0 351.8 C477.0 351.7 479.0 351.6 481.0 351.5 C483.0 351.4 485.0 351.3 487.0 351.3 C489.0 351.2 491.0 351.2 493.0 351.1 C495.0 351.0 497.0 351.0 499.0 350.9 C501.0 350.8 503.0 350.8 505.0 350.7 C507.0 350.7 509.0 350.6 511.0 350.5 C513.0 350.5 515.0 350.4 517.0 350.3 C519.0 350.3 521.2 350.2 523.0 350.2 C524.8 350.1 527.2 350.0 528.0 350.0" stroke="#000" stroke-width="3"/>
</g>
<g stroke="#000" stroke-width="3.2" fill="none" stroke-linecap="butt">
<rect x="211.4" y="37.1" width="697.6" height="628.2"/>
<line x1="193.2" y1="37.1" x2="211.4" y2="37.1"/>
<line x1="201.4" y1="115.6" x2="211.4" y2="115.6"/>
<line x1="193.2" y1="194.1" x2="211.4" y2="194.1"/>
<line x1="201.4" y1="272.7" x2="211.4" y2="272.7"/>
<line x1="193.2" y1="351.2" x2="211.4" y2="351.2"/>
<line x1="201.4" y1="429.7" x2="211.4" y2="429.7"/>
<line x1="193.2" y1="508.2" x2="211.4" y2="508.2"/>
<line x1="201.4" y1="586.8" x2="211.4" y2="586.8"/>
<line x1="193.2" y1="665.3" x2="211.4" y2="665.3"/>
<line x1="211.4" y1="665.3" x2="211.4" y2="683.5"/>
<line x1="290.7" y1="665.3" x2="290.7" y2="675.3"/>
<line x1="370.0" y1="665.3" x2="370.0" y2="683.5"/>
<line x1="449.2" y1="665.3" x2="449.2" y2="675.3"/>
<line x1="528.5" y1="665.3" x2="528.5" y2="683.5"/>
<line x1="607.8" y1="665.3" x2="607.8" y2="675.3"/>
<line x1="687.1" y1="665.3" x2="687.1" y2="683.5"/>
<line x1="766.3" y1="665.3" x2="766.3" y2="675.3"/>
<line x1="845.6" y1="665.3" x2="845.6" y2="683.5"/>
</g>
<g class="tk" font-size="55.8">
<text transform="translate(183.8 52.1) scale(0.975 1)" text-anchor="end">0.2</text>
<text transform="translate(183.8 209.1) scale(0.975 1)" text-anchor="end">0.1</text>
<text transform="translate(183.8 366.2) scale(0.975 1)" text-anchor="end">0</text>
<text transform="translate(183.8 523.2) scale(0.975 1)" text-anchor="end">-0.1</text>
<text transform="translate(183.8 680.3) scale(0.975 1)" text-anchor="end">-0.2</text>
<text transform="translate(211.9 734.1) scale(0.975 1)" text-anchor="middle">-1</text>
<text transform="translate(370.0 734.1) scale(0.975 1)" text-anchor="middle">-0.5</text>
<text transform="translate(528.5 734.1) scale(0.975 1)" text-anchor="middle">0</text>
<text transform="translate(687.1 734.1) scale(0.975 1)" text-anchor="middle">0.5</text>
<text transform="translate(846.6 734.1) scale(0.975 1)" text-anchor="middle">1</text>
</g>
<g stroke-width="3.3" fill="none">
<line x1="267" y1="61.4" x2="365.5" y2="61.4" stroke="#000"/>
<line x1="267" y1="127.2" x2="365.5" y2="127.2" stroke="#ff0000"/>
<line x1="267" y1="194" x2="365.5" y2="194" stroke="#ff0000" stroke-dasharray="14.5 13.9"/>
</g>
<g font-size="43">
<text transform="translate(375.9 75.6) scale(0.995 1)">P-25 with O<tspan font-size="26.8" dy="15.6">2</tspan></text>
<text transform="translate(375.9 141.6) scale(0.995 1)">MnO<tspan font-size="26.8" dy="15.6">x</tspan><tspan dy="-15.6">/P-25 with O</tspan><tspan font-size="26.8" dy="15.6">2</tspan></text>
<text transform="translate(375.9 208.1) scale(0.995 1)">MnO<tspan font-size="26.8" dy="15.6">x</tspan><tspan dy="-15.6">/P-25 without O</tspan><tspan font-size="26.8" dy="15.6">2</tspan></text>
</g>
<text transform="translate(280.5 816.3) scale(0.966 1)" font-size="72.5"><tspan font-style="italic">E</tspan> / V vs. Ag/AgCl</text>
<text transform="translate(77 525) rotate(-90) scale(0.966 1)" font-size="72.5"><tspan font-style="italic">I</tspan> / mA cm<tspan font-size="45" dy="-34">-2</tspan></text>
<g fill="#fff"><rect x="155.96" y="203.01" width="10.27" height="7.69"/><rect x="173.70" y="203.01" width="9.58" height="7.69"/><rect x="155.96" y="517.11" width="10.27" height="7.69"/><rect x="173.70" y="517.11" width="9.58" height="7.69"/><rect x="208.25" y="728.01" width="10.27" height="7.69"/><rect x="225.98" y="728.01" width="9.58" height="7.69"/><rect x="833.90" y="728.01" width="10.27" height="7.69"/><rect x="851.64" y="728.01" width="9.58" height="7.69"/></g>
</g>
</svg></body></html>
